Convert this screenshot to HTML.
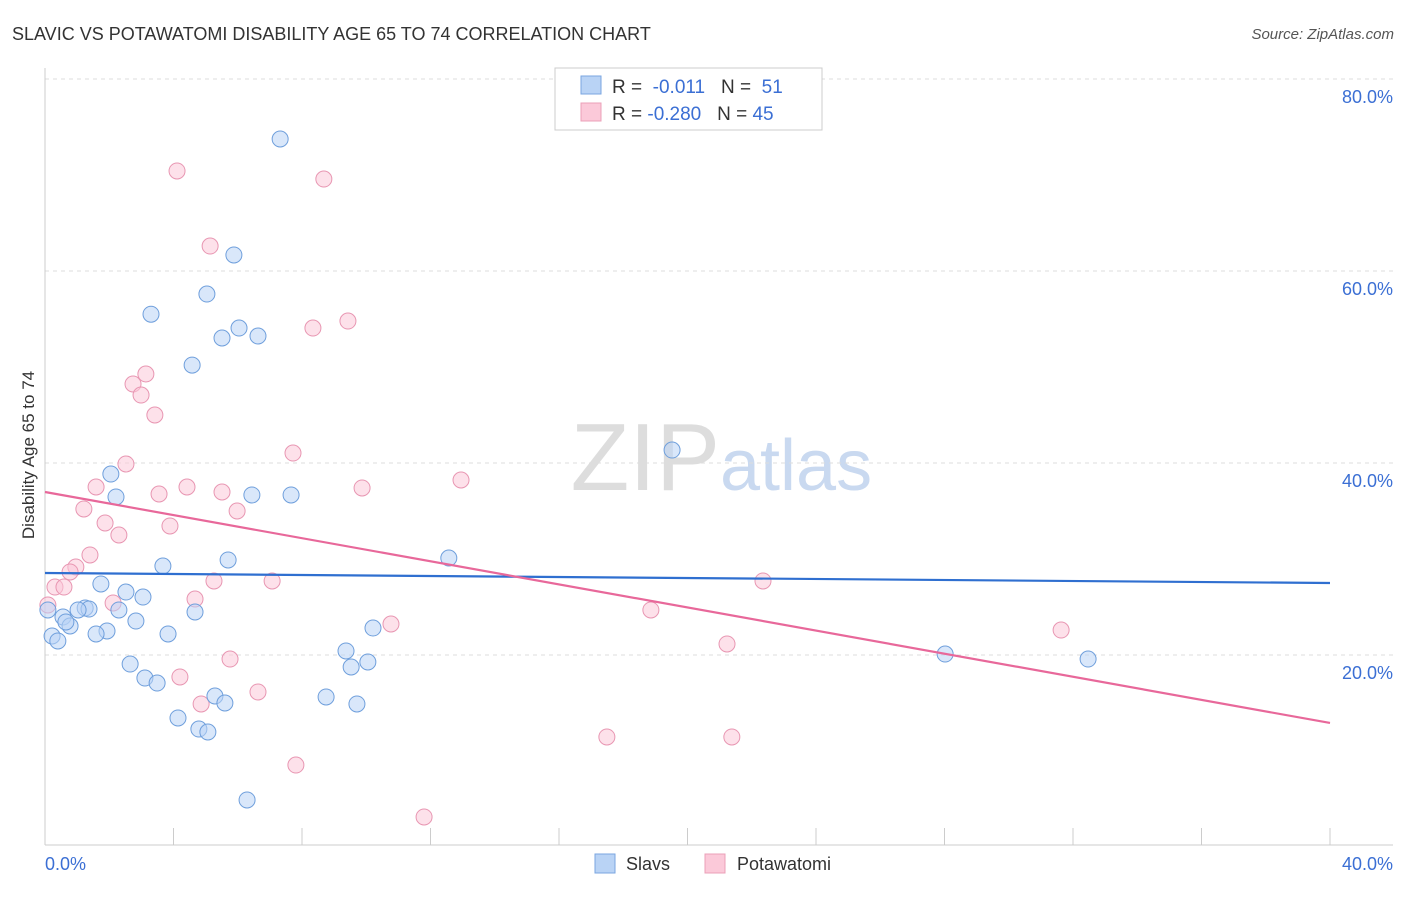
<!DOCTYPE html>
<html><head><meta charset="utf-8"><style>
body{margin:0;background:#fff;font-family:"Liberation Sans",sans-serif}
svg text{font-family:"Liberation Sans",sans-serif}
</style></head><body>
<svg width="1406" height="892" viewBox="0 0 1406 892">
<text x="12" y="40" font-size="18" fill="#333">SLAVIC VS POTAWATOMI DISABILITY AGE 65 TO 74 CORRELATION CHART</text>
<text x="1394" y="39" font-size="15" fill="#555" font-style="italic" text-anchor="end">Source: ZipAtlas.com</text>
<text x="720" y="490" font-size="96" fill="#ddd" font-family="Liberation Serif" text-anchor="end">ZIP</text>
<text x="720" y="490" font-size="72" fill="#c9d9f0">atlas</text>
<g id="grid"></g>
<line x1="45" y1="68" x2="45" y2="845" stroke="#ccc"/>
<line x1="45" y1="845" x2="1393" y2="845" stroke="#ccc"/>
<text x="34" y="455" font-size="17" fill="#333" text-anchor="middle" transform="rotate(-90 34 455)">Disability Age 65 to 74</text>
<text x="45" y="870" font-size="18" fill="#3b6fd4">0.0%</text>
<text x="1393" y="870" font-size="18" fill="#3b6fd4" text-anchor="end">40.0%</text>
<g id="marks"></g>
<g>
<rect x="555" y="68" width="267" height="62" fill="#fff" stroke="#ccc"/>
<rect x="581" y="76" width="20" height="18" fill="#b9d3f5" stroke="#7aa6e0"/>
<rect x="581" y="103" width="20" height="18" fill="#fbc9d9" stroke="#eba0b8"/>
<text x="612" y="93" font-size="19" fill="#333">R = <tspan fill="#3b6fd4">&#160;-0.011</tspan>&#160;&#160;&#160;N = <tspan fill="#3b6fd4">&#160;51</tspan></text>
<text x="612" y="120" font-size="19" fill="#333">R = <tspan fill="#3b6fd4">-0.280</tspan>&#160;&#160;&#160;N = <tspan fill="#3b6fd4">45</tspan></text>
</g>
<g>
<rect x="595" y="854" width="20" height="19" fill="#b9d3f5" stroke="#7aa6e0"/>
<text x="626" y="870" font-size="18" fill="#333">Slavs</text>
<rect x="705" y="854" width="20" height="19" fill="#fbc9d9" stroke="#eba0b8"/>
<text x="737" y="870" font-size="18" fill="#333">Potawatomi</text>
</g>
</svg>
<script>
const yTicks=[20,40,60,80];
const xTickCount=10;
const slavX=[7.32,5.88,5.04,3.30,6.04,5.51,6.63,4.58,19.52,2.05,2.21,6.44,7.66,12.57,5.70,3.67,1.74,2.52,3.05,4.67,2.30,1.25,1.37,1.03,0.56,2.83,0.78,1.93,1.59,3.83,0.22,0.40,10.21,9.37,10.05,9.53,28.02,32.47,2.65,3.11,3.49,5.29,5.60,8.75,9.71,4.14,4.79,5.07,6.29,0.09,0.65];
const slavY=[73.75,61.67,57.6,55.5,54.06,53.02,53.23,50.2,41.35,38.85,36.46,36.67,36.67,30.1,29.9,29.27,27.4,26.56,26.04,24.48,24.69,24.9,24.79,24.69,23.96,23.54,23.02,22.5,22.19,22.19,21.98,21.46,22.81,20.42,19.27,18.75,20.1,19.58,19.06,17.6,17.08,15.73,15.0,15.63,14.9,13.44,12.29,11.98,4.9,24.69,23.44];
const potX=[4.11,8.68,5.14,9.43,8.34,3.14,2.74,2.99,3.42,7.72,2.52,12.95,1.59,4.42,9.87,3.55,5.51,1.21,5.98,1.87,3.89,2.30,1.40,0.96,0.78,0.31,0.59,5.26,7.07,22.35,4.67,2.12,18.86,10.77,31.63,21.23,5.76,4.20,6.63,4.86,17.49,21.38,7.81,11.80,0.09];
const potY=[70.42,69.58,62.6,54.79,54.06,49.27,48.23,47.08,45.0,41.04,39.9,38.23,37.5,37.5,37.4,36.77,36.98,35.21,35.0,33.75,33.44,32.5,30.42,29.17,28.65,27.08,27.08,27.71,27.71,27.71,25.83,25.42,24.69,23.23,22.6,21.15,19.58,17.71,16.15,14.9,11.46,11.46,8.54,3.13,25.21];
const slavTrend=[28.54,27.5];
const potTrend=[36.98,12.92];
const xDomain=[0,40];
const NS="http://www.w3.org/2000/svg";
function xs(v){return 45+(v-xDomain[0])/(xDomain[1]-xDomain[0])*1285;}
function ys(v){return 847-v/20*192;}
function mk(tag,attrs,parent){const e=document.createElementNS(NS,tag);for(const k in attrs)e.setAttribute(k,attrs[k]);parent.appendChild(e);return e;}
const grid=document.getElementById('grid');
yTicks.forEach(t=>{
 const l=mk('line',{x1:45,x2:1393,y1:ys(t),y2:ys(t),stroke:'#ddd','stroke-dasharray':'4,4'},grid);
 
 
 const tx=mk('text',{x:1393,y:ys(t)+24,'font-size':18,fill:'#3b6fd4','text-anchor':'end'},grid);
 tx.textContent=t.toFixed(1)+'%';
 
 
});
for(let i=1;i<=xTickCount;i++){
 const v=xDomain[0]+i*(xDomain[1]-xDomain[0])/xTickCount;
 const l=mk('line',{x1:xs(v),x2:xs(v),y1:828,y2:845,stroke:'#ccc'},grid);
 
 
}
const marks=document.getElementById('marks');
function pts(X,Y,fill,stroke,name){
 X.forEach((x,i)=>{
  const c=mk('circle',{cx:xs(x),cy:ys(Y[i]),r:8,fill:fill,'fill-opacity':0.55,stroke:stroke,'stroke-width':1},marks);
  
  
 });
}
pts(potX,potY,'#fbc9d9','#e896b2','potawatomi-point');
pts(slavX,slavY,'#b9d3f5','#6f9fdc','slavs-point');
const t1=mk('line',{x1:xs(xDomain[0]),x2:xs(xDomain[1]),y1:ys(slavTrend[0]),y2:ys(slavTrend[1]),stroke:'#2f6fd0','stroke-width':2.2},marks);


const t2=mk('line',{x1:xs(xDomain[0]),x2:xs(xDomain[1]),y1:ys(potTrend[0]),y2:ys(potTrend[1]),stroke:'#e8689a','stroke-width':2.2},marks);


</script>
</body></html>
